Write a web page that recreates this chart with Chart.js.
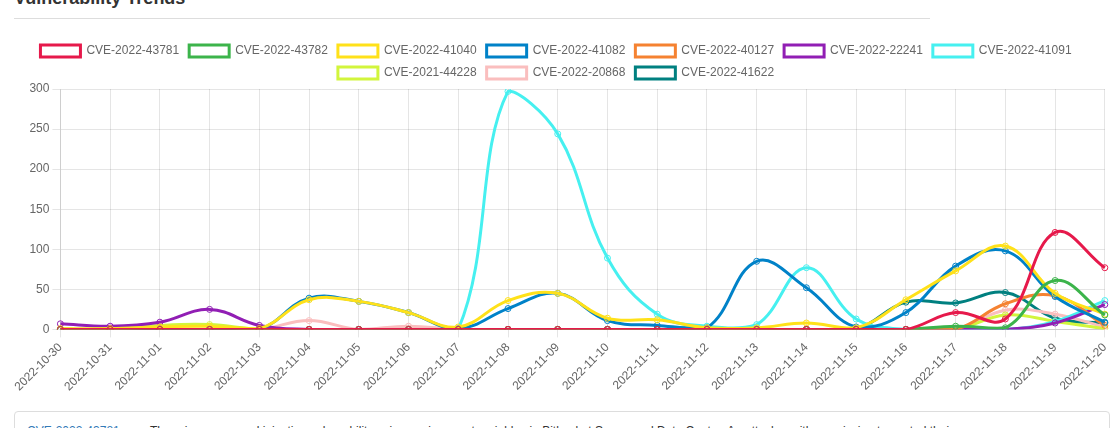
<!DOCTYPE html>
<html>
<head>
<meta charset="utf-8">
<script src="https://cdn.jsdelivr.net/npm/chart.js@4.4.0/dist/chart.umd.min.js"></script>
<style>
  body { margin: 0; background: #fff; font-family: "Helvetica Neue", Helvetica, Arial, sans-serif; overflow: hidden; }
  .title { position: absolute; left: 14px; top: -12px; font-size: 18px; line-height: 21px; font-weight: bold; color: #333; margin: 0; }
  .rule { position: absolute; left: 14px; top: 18px; width: 916px; border-top: 1px solid #ddd; }
  .chart-box { position: absolute; left: 14px; top: 35px; width: 1104px; height: 362px; }
  .desc { position: absolute; left: 14px; top: 411px; width: 1096px; height: 60px; border: 1px solid #ddd; border-radius: 4px; padding: 11px 12px; box-sizing: border-box; font-size: 12px; line-height: 17px; color: #333; overflow: hidden; }
  .desc a { color: #337ab7; text-decoration: none; display: inline-block; width: 123px; vertical-align: top; }
  .desc span { display: inline-block; width: 850px; vertical-align: top; }
</style>
</head>
<body>
<h3 class="title">Vulnerability Trends</h3>
<div class="rule"></div>
<div class="chart-box"><canvas id="trend-chart"></canvas></div>
<div class="desc"><a href="#">CVE-2022-43781</a><span>There is a command injection vulnerability using environment variables in Bitbucket Server and Data Center. An attacker with permission to control their username can exploit this issue to execute arbitrary code on the system.</span></div>
<script>
// dates on the x axis
const labels = [
  '2022-10-30', '2022-10-31', '2022-11-01', '2022-11-02', '2022-11-03', '2022-11-04',
  '2022-11-05', '2022-11-06', '2022-11-07', '2022-11-08', '2022-11-09', '2022-11-10',
  '2022-11-11', '2022-11-12', '2022-11-13', '2022-11-14', '2022-11-15', '2022-11-16',
  '2022-11-17', '2022-11-18', '2022-11-19', '2022-11-20'
];

const cveNames = [
  'CVE-2022-43781', 'CVE-2022-43782', 'CVE-2022-41040', 'CVE-2022-41082', 'CVE-2022-40127',
  'CVE-2022-22241', 'CVE-2022-41091', 'CVE-2021-44228', 'CVE-2022-20868', 'CVE-2022-41622'
];

const cveColors = [
  '#e6194b', '#3cb44b', '#ffe119', '#0082c8', '#f58231',
  '#911eb4', '#46f0f0', '#d2f53c', '#fabebe', '#008080'
];

// mentions per day
const cve43781 = [0, 0, 0, 0, 0, 0, 0, 0, 0, 0, 0, 0, 0, 0, 0, 0, 0, 0, 21, 13, 121, 77];
const cve43782 = [0, 0, 0, 0, 0, 0, 0, 0, 0, 0, 0, 0, 0, 0, 0, 0, 0, 0, 4, 2, 61, 18];
const cve41040 = [1, 1, 3, 4, 1, 37, 35, 21, 3, 36, 45, 14, 12, 2, 2, 8, 2, 37, 73, 104, 45, 19];
const cve41082 = [0, 0, 0, 0, 0, 39, 35, 21, 1, 26, 45, 11, 5, 2, 85, 52, 3, 21, 79, 98, 41, 9];
const cve40127 = [0, 0, 0, 0, 0, 0, 0, 0, 0, 0, 0, 0, 0, 0, 0, 0, 0, 0, 0, 32, 42, 5];
const cve22241 = [7, 4, 9, 25, 5, 0, 0, 0, 0, 0, 0, 0, 0, 0, 0, 0, 0, 0, 0, 0, 8, 31];
const cve41091 = [0, 0, 0, 0, 0, 0, 0, 0, 0, 297, 244, 89, 19, 4, 6, 77, 13, 0, 0, 0, 10, 36];
const cve44228 = [0, 0, 5, 6, 0, 0, 0, 0, 0, 0, 0, 0, 0, 0, 0, 0, 0, 0, 0, 18, 10, 1];
const cve20868 = [0, 0, 0, 0, 0, 11, 0, 4, 0, 0, 0, 0, 0, 0, 0, 0, 0, 0, 0, 24, 19, 3];
const cve41622 = [0, 0, 0, 0, 0, 0, 0, 0, 0, 0, 0, 0, 0, 0, 0, 0, 0, 34, 33, 46, 14, 8];

const seriesValues = [cve43781, cve43782, cve41040, cve41082, cve40127,
  cve22241, cve41091, cve44228, cve20868, cve41622];

const yTicks = [0, 50, 100, 150, 200, 250, 300];

Chart.defaults.font.family = '"Helvetica Neue", Helvetica, Arial, sans-serif';
Chart.defaults.font.size = 12;
Chart.defaults.color = '#666';

// legend in the original sits a bit left of centre
const legendShift = {
  id: 'legendShift',
  afterLayout(chart) {
    chart.legend.left -= 10;
    chart.legend.right -= 10;
  }
};

const ctx = document.getElementById('trend-chart');
new Chart(ctx, {
  type: 'line',
  data: {
    labels: labels,
    datasets: cveNames.map((name, i) => ({
      label: name,
      data: seriesValues[i],
      borderColor: cveColors[i],
      backgroundColor: 'rgba(255, 255, 255, 0)',
      borderWidth: 3,
      pointRadius: 3,
      pointBorderWidth: 1,
      tension: 0.4,
      fill: false
    }))
  },
  options: {
    responsive: true,
    maintainAspectRatio: false,
    animation: false,
    plugins: {
      legend: {
        labels: { boxWidth: 40, boxHeight: 12, padding: 10 }
      },
      tooltip: { enabled: false }
    },
    scales: {
      x: {
        ticks: { minRotation: 45, maxRotation: 45, autoSkip: false }
      },
      y: {
        min: yTicks[0],
        max: yTicks[yTicks.length - 1],
        ticks: { stepSize: 50 }
      }
    }
  },
  plugins: [legendShift]
});
</script>
</body>
</html>
